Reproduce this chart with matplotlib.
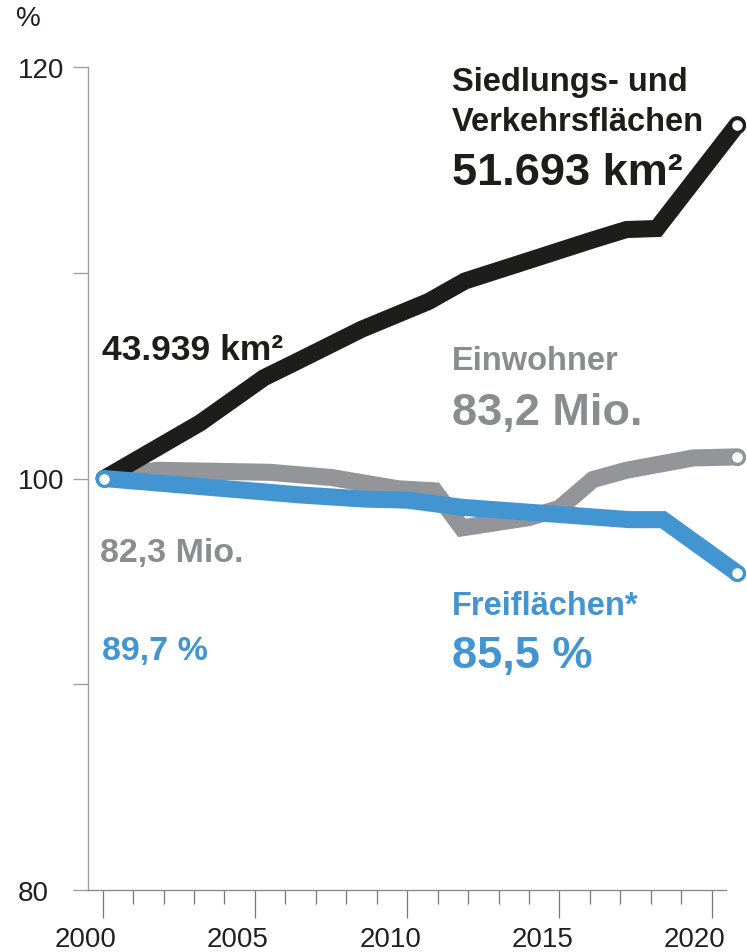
import matplotlib
matplotlib.use("Agg")
import matplotlib.pyplot as plt
import matplotlib.transforms as mtransforms
from matplotlib.ticker import MultipleLocator, FixedLocator

# Siedlungs- und Verkehrsflaechen (index, 2000 = 100)
years_sv = [2000.05, 2003.2, 2005.3, 2006.4, 2008.5, 2010.7, 2011.9, 2013.9, 2016.1, 2017.2, 2018.2, 2020.84]
siedlung = [100.0, 102.7, 104.9, 105.7, 107.25, 108.6, 109.6, 110.55, 111.6, 112.1, 112.15, 117.2]

# Einwohner
years_ew = [2000.05, 2001.8, 2005.5, 2007.5, 2009.7, 2010.9, 2011.8, 2014.0, 2015.0, 2016.1, 2017.2, 2018.3, 2019.4, 2020.84]
einwohner = [100.0, 100.4, 100.3, 100.05, 99.5, 99.4, 97.6, 98.1, 98.55, 99.95, 100.4, 100.7, 101.0, 101.05]

# Freiflaechen
years_ff = [2000.05, 2006.5, 2008.6, 2010.0, 2011.8, 2017.3, 2018.4, 2020.84]
freiflaechen = [100.0, 99.2, 99.0, 98.95, 98.6, 98.0, 98.0, 95.4]

y_ticks = [80, 90, 100, 110, 120]
y_labels = ["80", "", "100", "", "120"]
x_ticks = [2000, 2005, 2010, 2015, 2020]

BLACK = "#1d1d1b"
GREY = "#939598"
GREY_TXT = "#8b8c8f"
BLUE = "#4395d1"

W, H = 747, 953


def px(x, y):
    return x / W, 1 - y / H


def main():
    plt.rcParams["font.family"] = ["Liberation Sans", "DejaVu Sans"]
    fig = plt.figure(figsize=(W / 100, H / 100), dpi=100)
    ax = fig.add_axes([88 / W, 1 - 891 / H, (726 - 88) / W, (891 - 68) / H])

    lw = 12.3
    mk = dict(marker="o", markersize=10, markerfacecolor="white", markeredgewidth=2.4,
              solid_capstyle="round", solid_joinstyle="miter", clip_on=False)

    ax.plot(years_ew, einwohner, color=GREY, lw=lw, markevery=[len(years_ew) - 1],
            markeredgecolor=GREY, zorder=2, **mk)
    ax.plot(years_sv, siedlung, color=BLACK, lw=lw, markevery=[len(years_sv) - 1],
            markeredgecolor=BLACK, zorder=3, **mk)
    ax.plot(years_ff, freiflaechen, color=BLUE, lw=lw, markevery=[0, len(years_ff) - 1],
            markeredgecolor=BLUE, zorder=4, **mk)

    ax.set_xlim(1999.52, 2020.47)
    ax.set_ylim(80, 120)

    for s in ["top", "right"]:
        ax.spines[s].set_visible(False)
    ax.spines["left"].set_color("#a0a0a0")
    ax.spines["left"].set_linewidth(1.0)
    ax.spines["bottom"].set_color("#8a8a8a")
    ax.spines["bottom"].set_linewidth(1.0)

    ax.yaxis.set_major_locator(FixedLocator(y_ticks))
    ax.set_yticklabels(y_labels)
    ax.tick_params(axis="y", length=10.8, width=1.0, color="#a0a0a0", pad=40,
                   labelsize=20, labelcolor="#231f20")
    for lab in ax.get_yticklabels():
        lab.set_horizontalalignment("left")

    ax.xaxis.set_major_locator(FixedLocator(x_ticks))
    ax.xaxis.set_minor_locator(MultipleLocator(1))
    ax.set_xticklabels([str(t) for t in x_ticks])
    ax.tick_params(axis="x", which="major", length=20, width=0.9, color="#777777", pad=6,
                   labelsize=20, labelcolor="#231f20")
    ax.tick_params(axis="x", which="minor", length=10, width=0.9, color="#777777")
    shift = mtransforms.ScaledTranslation(-17 / 100, 0, fig.dpi_scale_trans)
    for lab in ax.get_xticklabels():
        lab.set_transform(lab.get_transform() + shift)

    fig.text(*px(16, 26), "%", fontsize=20, color="#231f20", va="baseline")

    txt = dict(fontweight="bold", va="baseline")

    fig.text(*px(452, 91), "Siedlungs- und", fontsize=23.5, color=BLACK, **txt)
    fig.text(*px(452, 131), "Verkehrsflächen", fontsize=23.5, color=BLACK, **txt)
    fig.text(*px(452, 185), "51.693 km²", fontsize=32.5, color=BLACK, **txt)
    fig.text(*px(102, 360), "43.939 km²", fontsize=25.5, color=BLACK, **txt)

    fig.text(*px(452, 370), "Einwohner", fontsize=23.5, color=GREY_TXT, **txt)
    fig.text(*px(452, 425), "83,2 Mio.", fontsize=32.5, color=GREY_TXT, **txt)
    fig.text(*px(100, 562), "82,3 Mio.", fontsize=24.5, color=GREY_TXT, **txt)

    fig.text(*px(452, 615), "Freiflächen*", fontsize=23.5, color=BLUE, **txt)
    fig.text(*px(452, 668), "85,5 %", fontsize=32.5, color=BLUE, **txt)
    fig.text(*px(102, 660), "89,7 %", fontsize=24.5, color=BLUE, **txt)

    fig.savefig("out.png", dpi=100)


if __name__ == "__main__":
    main()
